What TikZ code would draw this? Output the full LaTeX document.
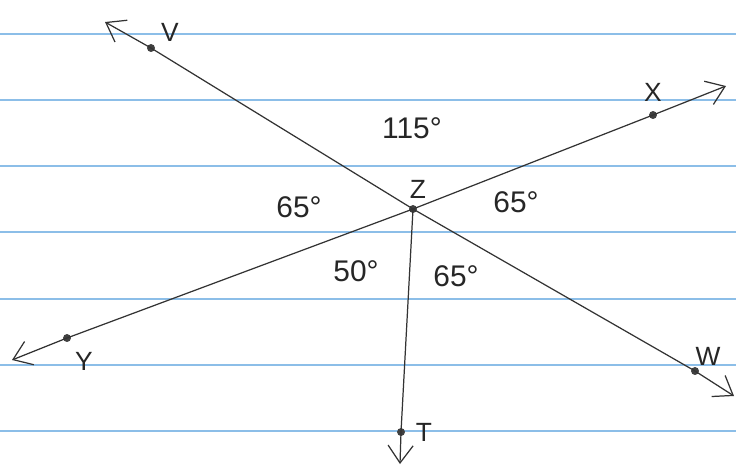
\documentclass[tikz,border=0pt]{standalone}
\usepackage{fontspec}
\setmainfont{Liberation Sans}
\usepackage{tikz}
\usetikzlibrary{arrows.meta}
\definecolor{PaperBlue}{RGB}{140,190,232}
\tikzset{dot/.style={circle,fill=black!75,inner sep=1.6pt}, lab/.style={font=\fontsize{15}{15}\selectfont,text=black!85}, ang/.style={font=\fontsize{17}{17}\selectfont,text=black!85}, ray/.style={draw=black!80,line width=0.7pt,-{Straight Barb[length=3.5mm,width=5mm]}}}

\begin{document}
\begin{tikzpicture}[x=0.02cm,y=-0.02cm]
\useasboundingbox (0,0) rectangle (736,467);
% ruled paper
\foreach \yy in {34,100,166,232,299,365,431}
  \draw[PaperBlue,line width=1.6pt] (0,\yy) -- (736,\yy);
\node[dot] (z) at (413,209) {};
\node[dot] (v) at (151,48) {};
\node[dot] (w) at (695,371) {};
\node[dot] (x) at (653,115) {};
\node[dot] (y) at (67,338) {};
\node[dot] (t) at (401,432) {};
\coordinate (vend) at (105,22);
\coordinate (wend) at (734,396);
\coordinate (xend) at (726,86);
\coordinate (yend) at (12,360);
\coordinate (tend) at (400,464);
\draw[ray] (z.center) -- (v.center) -- (vend);
\draw[ray] (z.center) -- (w.center) -- (wend);
\draw[ray] (z.center) -- (x.center) -- (xend);
\draw[ray] (z.center) -- (y.center) -- (yend);
\draw[ray] (z.center) -- (t.center) -- (tend);
\node[lab] (vlab) at (170,32) {V};
\node[lab] (wlab) at (708,356) {W};
\node[lab] (xlab) at (653,92) {X};
\node[lab] (ylab) at (84,361) {Y};
\node[lab] (tlab) at (424,432) {T};
\node[lab] (zlab) at (418,189) {Z};
\node[ang] (a1) at (412,128) {115°};
\node[ang] (a2) at (299,207) {65°};
\node[ang] (a3) at (516,202) {65°};
\node[ang] (a4) at (356,271) {50°};
\node[ang] (a5) at (456,276) {65°};
\end{tikzpicture}
\end{document}
